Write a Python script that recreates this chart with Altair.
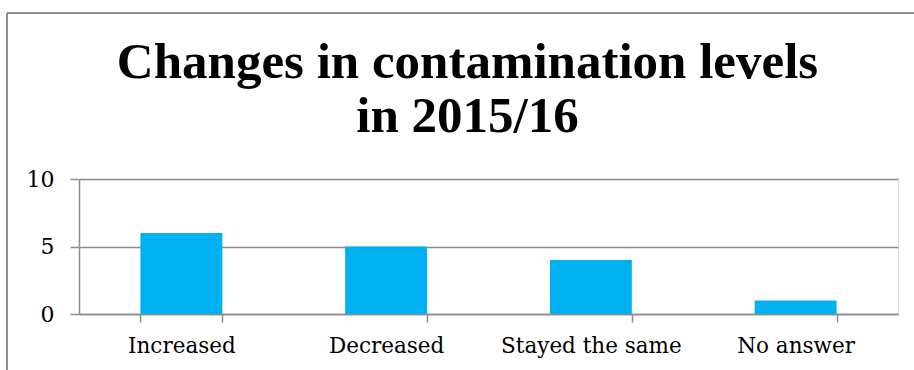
import altair as alt
import pandas as pd

categories = ["Increased", "Decreased", "Stayed the same", "No answer"]
counts = [6, 5, 4, 1]
title_lines = ["Changes in contamination levels", "in 2015/16"]

df = pd.DataFrame({"category": categories, "count": counts})

W, H = 819, 135
GRAY = "#8c8c8c"
FONT = "DejaVu Serif"
TFONT = "Liberation Serif"

bars = alt.Chart(df).mark_bar(color="#00B0F0").encode(
    x=alt.X("category:N", sort=categories, title=None,
            scale=alt.Scale(paddingInner=0.6, paddingOuter=0.3),
            axis=alt.Axis(labelAngle=0, tickBand="extent", tickSize=8,
                          tickColor=GRAY, domainColor=GRAY, domainWidth=1.5,
                          tickWidth=1.5, labelFont=FONT, labelFontSize=21.5,
                          labelColor="#000", labelPadding=13, labelLimit=400,
                          grid=False)),
    y=alt.Y("count:Q", title=None,
            scale=alt.Scale(domain=[0, 10]),
            axis=alt.Axis(values=[0, 5, 10], tickSize=9, tickColor=GRAY,
                          domainColor=GRAY, domainWidth=1.5, tickWidth=1.5,
                          gridColor=GRAY, gridWidth=1.5, gridOpacity=1,
                          labelFont=FONT, labelFontSize=22, labelColor="#000",
                          labelPadding=16)),
)

border_left = alt.Chart(df).mark_rule(color=GRAY, strokeWidth=1.5, clip=False).encode(
    x=alt.value(-72), y=alt.value(-166), y2=alt.value(H + 60))
border_top = alt.Chart(df).mark_rule(color=GRAY, strokeWidth=1.5, clip=False).encode(
    x=alt.value(-72), x2=alt.value(W + 20), y=alt.value(-166))

chart = alt.layer(bars, border_left, border_top).properties(
    width=W, height=H,
    title=alt.TitleParams(title_lines, font=TFONT, fontSize=51, fontWeight="bold",
                          color="#000", anchor="middle", lineHeight=54,
                          offset=-131, dx=-21),
    padding={"left": 79, "top": 179, "right": 16, "bottom": 56},
    autosize=alt.AutoSizeParams(type="none"),
).configure_view(stroke=None).configure(background="white")

chart.save("out.html", embed_options={"renderer": "svg", "actions": False})
